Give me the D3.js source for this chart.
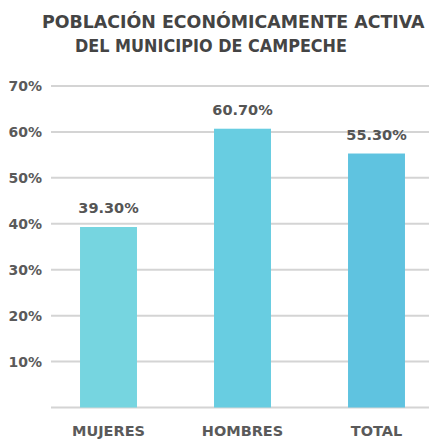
<!DOCTYPE html>
<html><head><meta charset="utf-8">
<script src="https://cdn.jsdelivr.net/npm/d3@7"></script>
<style>body{margin:0;background:#fff}</style>
</head><body><svg id="c" width="431" height="441"></svg>
<script>
const categories = ["MUJERES", "HOMBRES", "TOTAL"];
const values = [39.3, 60.7, 55.3];
const valueLabels = ["39.30%", "60.70%", "55.30%"];
const tickValues = [0, 10, 20, 30, 40, 50, 60, 70];
const tickLabels = ["", "10%", "20%", "30%", "40%", "50%", "60%", "70%"];
const colors = ["#76d5e0", "#68cde1", "#5fc3e0"];
const titleLines = ["POBLACIÓN ECONÓMICAMENTE ACTIVA", "DEL MUNICIPIO DE CAMPECHE"];

const svg = d3.select("#c");
const font = "'DejaVu Sans', sans-serif";
const y = d3.scaleLinear().domain([0, 70]).range([407.5, 86]);
const x = d3.scaleBand().domain(categories).range([41.5, 443.5]).paddingInner(0.575).paddingOuter(0.2875);

// gridlines
svg.append("g").selectAll("line").data(tickValues).join("line")
  .attr("x1", 51).attr("x2", 429)
  .attr("y1", d => y(d)).attr("y2", d => y(d))
  .attr("stroke", "#d4d4d4").attr("stroke-width", 2);

// y labels
svg.append("g").selectAll("text").data(tickValues).join("text")
  .attr("x", 42).attr("y", d => y(d) + 5)
  .attr("text-anchor", "end")
  .attr("font-family", font).attr("font-weight", "bold").attr("font-size", 14)
  .attr("fill", "#5a5a5a")
  .text((d, i) => tickLabels[i]);

// bars
svg.append("g").selectAll("rect").data(values).join("rect")
  .attr("x", (d, i) => x(categories[i]))
  .attr("width", x.bandwidth())
  .attr("y", d => y(d))
  .attr("height", d => y(0) - y(d))
  .attr("fill", (d, i) => colors[i]);

// value labels
svg.append("g").selectAll("text").data(values).join("text")
  .attr("x", (d, i) => x(categories[i]) + x.bandwidth() / 2)
  .attr("y", d => y(d) - 14)
  .attr("text-anchor", "middle")
  .attr("font-family", font).attr("font-weight", "bold").attr("font-size", 14.5)
  .attr("fill", "#555")
  .text((d, i) => valueLabels[i]);

// category labels
svg.append("g").selectAll("text").data(categories).join("text")
  .attr("x", d => x(d) + x.bandwidth() / 2)
  .attr("y", 436)
  .attr("text-anchor", "middle")
  .attr("font-family", font).attr("font-weight", "bold").attr("font-size", 14.5)
  .attr("fill", "#5a5a5a")
  .text(d => d);

// title
const tx = [42, 75], ty = [28, 52];
svg.append("g").selectAll("text").data(titleLines).join("text")
  .attr("x", (d, i) => tx[i]).attr("y", (d, i) => ty[i])
  .attr("text-anchor", "start")
  .attr("font-family", font).attr("font-weight", "bold").attr("font-size", 17.4)
  .attr("fill", "#444")
  .each(function (d, i) {
    if (i === 1) d3.select(this).attr("textLength", 272).attr("lengthAdjust", "spacingAndGlyphs");
  })
  .text(d => d);
</script></body></html>
